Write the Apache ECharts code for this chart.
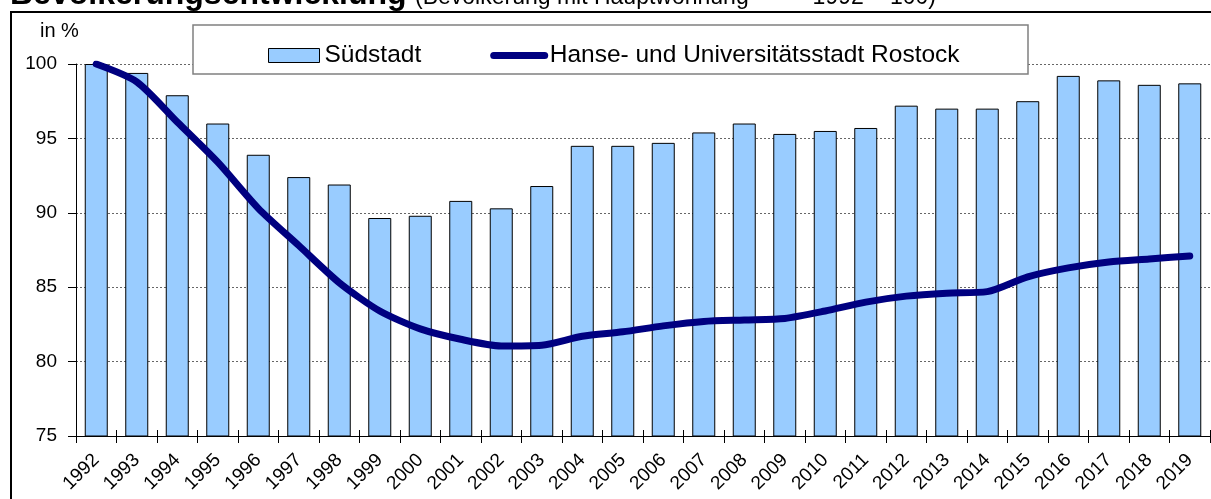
<!DOCTYPE html>
<html><head><meta charset="utf-8">
<script src="https://cdn.jsdelivr.net/npm/echarts@6/dist/echarts.min.js"></script>
<style>html,body{margin:0;padding:0;background:#fff}#c{width:1211px;height:499px}</style>
</head><body><div id="c"></div>
<script>
const years = ['1992','1993','1994','1995','1996','1997','1998','1999','2000','2001','2002','2003','2004','2005','2006','2007','2008','2009','2010','2011','2012','2013','2014','2015','2016','2017','2018','2019'];
const suedstadt = [100,99.4,97.9,96.0,93.9,92.4,91.9,89.65,89.8,90.8,90.3,91.8,94.5,94.5,94.7,95.4,96.0,95.3,95.5,95.7,97.2,97.0,97.0,97.5,99.2,98.9,98.6,98.7];
const rostock = [100,98.8,96.1,93.4,90.3,87.8,85.3,83.4,82.2,81.5,81.05,81.1,81.7,82.0,82.4,82.7,82.8,82.9,83.4,84.0,84.4,84.6,84.7,85.7,86.3,86.7,86.9,87.1];
const yTicks = [75,80,85,90,95,100];
const titleMain = 'Bevölkerungsentwicklung';
const titleSub = '(Bevölkerung mit Hauptwohnung          1992 = 100)';
const yUnit = 'in %';

const chart = echarts.init(document.getElementById('c'));
const FONT = '"Liberation Sans", Arial, sans-serif';
chart.setOption({
  animation:false,
  backgroundColor:'#fff',
  graphic:[
    {type:'text',z:50,x:10,y:-5,style:{text:titleMain,font:'bold 32px '+FONT,fill:'#000',verticalAlign:'middle',align:'left'}},
    {type:'text',z:50,x:415,y:-2,style:{text:titleSub,font:'23px '+FONT,fill:'#000',verticalAlign:'middle',align:'left'}},
    {type:'rect',z:0,shape:{x:11,y:12,width:1300,height:600},style:{fill:null,stroke:'#000',lineWidth:2},silent:true},
    {type:'rect',z:50,shape:{x:193,y:25,width:835,height:49},style:{fill:'#fff',stroke:'#808080',lineWidth:1.5},silent:true},
    {type:'text',z:50,x:40,y:31,style:{text:yUnit,font:'20px '+FONT,fill:'#000',verticalAlign:'middle'}}
  ],
  legend:{
    z:60,
    left:263, top:38,
    itemWidth:51, itemHeight:14, itemGap:69,
    textStyle:{fontFamily:FONT,fontSize:24.5,color:'#000'},
    data:[
      {name:'Südstadt',icon:'rect',itemStyle:{color:'#99CCFF',borderColor:'#000',borderWidth:1}},
      {name:'Hanse- und Universitätsstadt Rostock',itemStyle:{opacity:0},lineStyle:{width:7,color:'#000080',cap:'round'}}
    ]
  },
  grid:{left:76,right:1,top:64,bottom:63},
  xAxis:[{
    type:'category',data:years,position:'bottom',
    axisLine:{lineStyle:{color:'#000',width:1}},
    axisTick:{show:true,length:7,lineStyle:{color:'#000'}},
    axisLabel:{rotate:45,fontFamily:FONT,fontSize:19,color:'#000',margin:21}
  },{
    type:'category',data:years,position:'bottom',
    axisLine:{show:false},
    axisTick:{show:true,inside:true,length:6,lineStyle:{color:'#000'}},
    axisLabel:{show:false}
  }],
  yAxis:{
    type:'value',min:75,max:100,interval:5,
    axisLine:{show:true,lineStyle:{color:'#000'}},
    axisTick:{show:true,length:8,lineStyle:{color:'#000'}},
    axisLabel:{fontFamily:FONT,fontSize:19,color:'#000',margin:19,
      formatter:v=>yTicks.includes(v)?String(v):''},
    splitLine:{show:true,lineStyle:{color:'#666',type:[2,2],width:1}}
  },
  series:[
    {name:'Südstadt',type:'bar',data:suedstadt,barWidth:23,
     itemStyle:{color:'#99CCFF',borderColor:'#000',borderWidth:1}},
    {name:'Hanse- und Universitätsstadt Rostock',type:'line',data:rostock,
     symbol:'none',smooth:0.25,
     lineStyle:{color:'#000080',width:7,cap:'round'},itemStyle:{color:'#000080'}}
  ]
});
</script></body></html>
